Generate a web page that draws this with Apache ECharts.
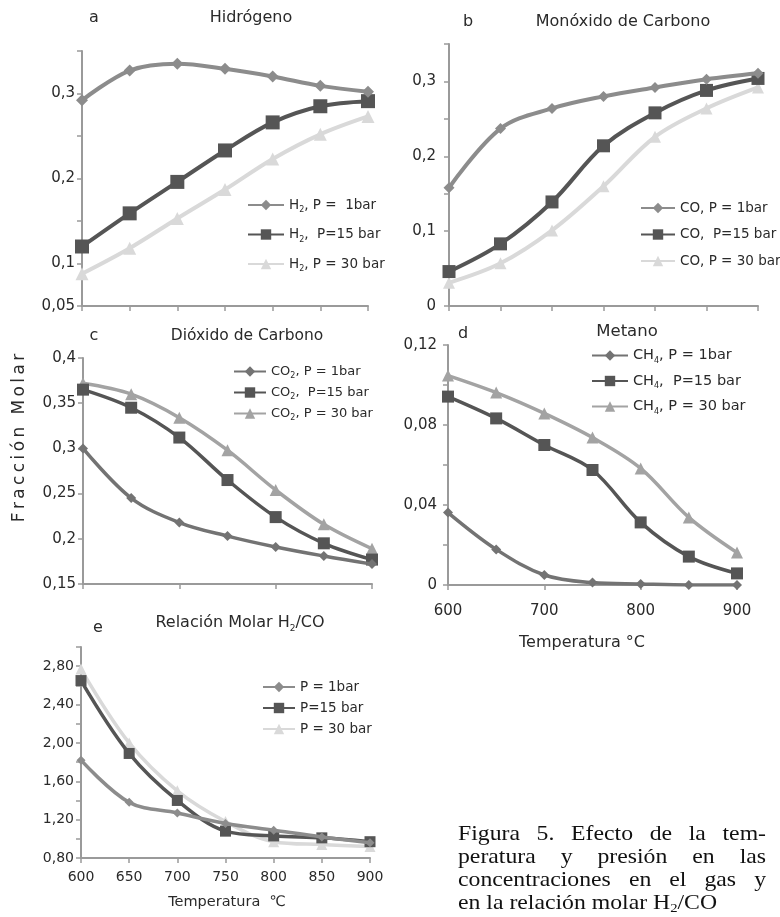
<!DOCTYPE html>
<html><head><meta charset="utf-8">
<script src="https://cdn.jsdelivr.net/npm/echarts@6/dist/echarts.min.js"></script>
<style>html,body{margin:0;padding:0;background:#fff}#c{width:780px;height:917px}</style>
</head><body><div id="c"></div>
<script>
// ---------- DATA ----------
const temps = [600, 650, 700, 750, 800, 850, 900];

const h2_1  = [0.292, 0.327, 0.335, 0.329, 0.320, 0.309, 0.302];
const h2_15 = [0.120, 0.159, 0.196, 0.233, 0.266, 0.285, 0.291];
const h2_30 = [0.088, 0.118, 0.153, 0.187, 0.223, 0.252, 0.273];

const co_1  = [0.158, 0.237, 0.264, 0.280, 0.292, 0.303, 0.311];
const co_15 = [0.046, 0.083, 0.139, 0.214, 0.258, 0.288, 0.304];
const co_30 = [0.031, 0.057, 0.101, 0.160, 0.226, 0.264, 0.292];

const co2_1  = [0.300, 0.245, 0.218, 0.203, 0.191, 0.181, 0.172];
const co2_15 = [0.365, 0.345, 0.312, 0.265, 0.224, 0.195, 0.177];
const co2_30 = [0.372, 0.360, 0.334, 0.298, 0.254, 0.216, 0.189];

const ch4_1  = [0.0362, 0.0178, 0.0050, 0.0012, 0.0005, 0.0000, 0.0000];
const ch4_15 = [0.0942, 0.0833, 0.0700, 0.0575, 0.0313, 0.0142, 0.0058];
const ch4_30 = [0.1047, 0.0962, 0.0858, 0.0737, 0.0583, 0.0338, 0.0162];

const rat_1  = [1.82, 1.38, 1.27, 1.16, 1.09, 1.02, 0.96];
const rat_15 = [2.65, 1.89, 1.40, 1.08, 1.03, 1.01, 0.97];
const rat_30 = [2.77, 2.00, 1.50, 1.18, 0.97, 0.94, 0.92];

// series names (legend labels; "_2"/"_4" = subscript)
const namesA = ['H_2, P =  1bar', 'H_2,  P=15 bar', 'H_2, P = 30 bar'];
const namesB = ['CO, P = 1bar', 'CO,  P=15 bar', 'CO, P = 30 bar'];
const namesC = ['CO_2, P = 1bar', 'CO_2,  P=15 bar', 'CO_2, P = 30 bar'];
const namesD = ['CH_4, P = 1bar', 'CH_4,  P=15 bar', 'CH_4, P = 30 bar'];
const namesE = ['P = 1bar', 'P=15 bar', 'P = 30 bar'];

// tick labels
const yTickA = [0.05, 0.1, 0.2, 0.3];            const yLabA = ['0,05', '0,1', '0,2', '0,3'];
const yTickB = [0, 0.1, 0.2, 0.3];               const yLabB = ['0', '0,1', '0,2', '0,3'];
const yTickC = [0.15, 0.2, 0.25, 0.3, 0.35, 0.4]; const yLabC = ['0,15', '0,2', '0,25', '0,3', '0,35', '0,4'];
const yTickD = [0, 0.04, 0.08, 0.12];            const yLabD = ['0', '0,04', '0,08', '0,12'];
const yTickE = [0.8, 1.2, 1.6, 2.0, 2.4, 2.8];   const yLabE = ['0,80', '1,20', '1,60', '2,00', '2,40', '2,80'];
const xTickD = [600, 700, 800, 900];
const xTickE = [600, 650, 700, 750, 800, 850, 900];

const captionLines = ['Figura 5. Efecto de la tem-', 'peratura y presión en las',
  'concentraciones en el gas y', 'en la relación molar H_2/CO'];

// ---------- STYLE / LAYOUT ----------
const FONT = 'DejaVu Sans';
const TXT = '#2a2a2a';
const AX = '#9a9a9a';

const grids = [
  {left: 82,  top: 51,  width: 286, height: 255},
  {left: 449, top: 44,  width: 309, height: 262},
  {left: 83,  top: 358, width: 289, height: 226},
  {left: 448, top: 345, width: 289, height: 240},
  {left: 81,  top: 647, width: 289, height: 211}
];

function fmtFrom(ticks, labs) {
  return v => { const k = ticks.findIndex(t => Math.abs(t - v) < 1e-6); return k < 0 ? '' : labs[k]; };
}

const yCfg = [
  {min: 0.05, max: 0.35, interval: 0.05, ticks: yTickA, labs: yLabA, margin: 7, fs: 15},
  {min: 0,    max: 0.35, interval: 0.05, ticks: yTickB, labs: yLabB, margin: 13, fs: 15},
  {min: 0.15, max: 0.40, interval: 0.05, ticks: yTickC, labs: yLabC, margin: 7, fs: 15},
  {min: 0,    max: 0.12, interval: 0.02, ticks: yTickD, labs: yLabD, margin: 11, fs: 15},
  {min: 0.8,  max: 3.0,  interval: 0.2,  ticks: yTickE, labs: yLabE, margin: 7, fs: 14}
];
const xCfg = [
  {interval: 50,  show: false},
  {interval: 50,  show: false},
  {interval: 100, show: false},
  {interval: 100, show: true, ticks: xTickD, margin: 19, fs: 15},
  {interval: 50,  show: true, ticks: xTickE, margin: 12, fs: 14}
];

const xAxis = xCfg.map((c, i) => ({
  type: 'value', gridIndex: i, min: 600, max: 900, interval: c.interval,
  axisLine: {onZero: false, lineStyle: {color: AX, width: 2}},
  axisTick: {show: true, length: 5, lineStyle: {color: AX, width: 1.5}},
  splitLine: {show: false},
  axisLabel: {show: c.show, margin: c.margin || 8, fontSize: c.fs || 14, fontFamily: FONT, color: TXT,
    formatter: c.show ? (v => (c.ticks.indexOf(v) >= 0 ? String(v) : '')) : ''}
}));
const yAxis = yCfg.map((c, i) => ({
  type: 'value', gridIndex: i, min: c.min, max: c.max, interval: c.interval,
  axisLine: {show: true, onZero: false, lineStyle: {color: AX, width: 2}},
  axisTick: {show: true, length: 5, lineStyle: {color: AX, width: 1.5}},
  splitLine: {show: false},
  axisLabel: {margin: c.margin, fontSize: c.fs, fontFamily: FONT, color: TXT, formatter: fmtFrom(c.ticks, c.labs)}
}));

const palLight = ['#8c8c8c', '#555555', '#d9d9d9'];
const palDark  = ['#737373', '#555555', '#a3a3a3'];
const symbols = ['diamond', 'rect', 'triangle'];

function panel(gi, names, arrs, pal, sizes, lw) {
  return arrs.map((vals, k) => ({
    type: 'line', name: names[k], xAxisIndex: gi, yAxisIndex: gi,
    data: temps.map((t, i) => [t, vals[i]]),
    smooth: 0.35, symbol: symbols[k], symbolSize: sizes[k], showAllSymbol: true,
    lineStyle: {color: pal[k], width: lw}, itemStyle: {color: pal[k]},
    z: k === 0 ? 4 : (k === 1 ? 3 : 2), silent: true, animation: false
  }));
}

const series = [].concat(
  panel(0, namesA, [h2_1, h2_15, h2_30], palLight, [12, 14, 13], 4),
  panel(1, namesB, [co_1, co_15, co_30], palLight, [11, 13, 12], 4),
  panel(2, namesC, [co2_1, co2_15, co2_30], palDark, [10, 12, 12], 3.5),
  panel(3, namesD, [ch4_1, ch4_15, ch4_30], palDark, [10, 12, 12], 3.5),
  panel(4, namesE, [rat_1, rat_15, rat_30], palLight, [9, 11, 11], 3.5)
);

function legend(names, left, top, itemWidth, fs, lh, gap) {
  return {
    data: names, left: left, top: top, orient: 'vertical', itemWidth: itemWidth, itemHeight: 13,
    itemGap: gap, selectedMode: false, padding: 0,
    formatter: n => '{n|' + n.replace(/_(\d)/g, '}{s|$1}{n|') + '}',
    textStyle: {fontFamily: FONT, fontSize: fs, color: TXT,
      rich: {n: {fontFamily: FONT, fontSize: fs, color: TXT, lineHeight: lh},
             s: {fontFamily: FONT, fontSize: 8, color: TXT, lineHeight: 8, verticalAlign: 'bottom'}}}
  };
}

const legends = [
  legend(namesA, 247, 198, 36, 13.5, 18, 13.5),
  legend(namesB, 640, 201, 34, 13.5, 18, 12.5),
  legend(namesC, 233, 365, 32, 13, 16, 6.5),
  legend(namesD, 591, 348, 36, 14.5, 18, 9),
  legend(namesE, 262, 680, 32, 13.5, 18, 7)
];

function txt(x, y, text, fs, extra) {
  return Object.assign({type: 'text', x: x, y: y, silent: true,
    style: {text: text, fontFamily: FONT, fontSize: fs, fill: TXT,
      align: 'center', verticalAlign: 'middle', textAlign: 'center', textVerticalAlign: 'middle',
      rich: {n: {fontFamily: FONT, fontSize: fs, fill: TXT, lineHeight: 20},
             s: {fontFamily: FONT, fontSize: 9, fill: TXT, lineHeight: 9, verticalAlign: 'bottom'}}}}, extra || {});
}

const graphic = [
  txt(94, 18, 'a', 16), txt(251, 18, 'Hidrógeno', 16),
  txt(468, 22, 'b', 16), txt(623, 22, 'Monóxido de Carbono', 16),
  txt(94, 336, 'c', 16), txt(247, 336, 'Dióxido de Carbono', 15.5),
  txt(463, 334, 'd', 16), txt(627, 332, 'Metano', 16.5),
  txt(98, 628, 'e', 16), txt(240, 623, '{n|Relación Molar H}{s|2}{n|/CO}', 16),
  txt(20, 438, 'F\u2009r\u2009a\u2009c\u2009c\u2009i\u2009ó\u2009n\u2009 \u2009M\u2009o\u2009l\u2009a\u2009r', 17, {rotation: Math.PI / 2}),
  txt(582, 643, 'Temperatura °C', 16),
  txt(227, 902, 'Temperatura  ℃', 14.5)
];

// justified caption (serif, slightly widened like the scanned original)
(function () {
  const cfs = 21, cfont = cfs + 'px "Liberation Serif"', sx = 1.13;
  const left = 458, width = 308, y0 = 834, lh = 23.3;
  const uw = width / sx;
  const ctx = document.createElement('canvas').getContext('2d');
  ctx.font = cfont;
  const kids = [];
  const st = (t, extra) => Object.assign({text: t, fontFamily: 'Liberation Serif', fontSize: cfs, fill: '#111',
      align: 'left', verticalAlign: 'middle', textAlign: 'left', textVerticalAlign: 'middle'}, extra || {});
  captionLines.forEach((line, li) => {
    const y = y0 + li * lh;
    if (li === captionLines.length - 1) {
      kids.push({type: 'text', x: 0, y: y, silent: true, style: st(
        '{n|' + line.replace(/_(\d)/g, '}{s|$1}{n|') + '}',
        {rich: {n: {fontFamily: 'Liberation Serif', fontSize: cfs, fill: '#111', lineHeight: 22},
                s: {fontFamily: 'Liberation Serif', fontSize: 13, fill: '#111', lineHeight: 12, verticalAlign: 'bottom'}}})});
      return;
    }
    const words = line.split(' ');
    const ws = words.map(w => ctx.measureText(w).width);
    const total = ws.reduce((a, b) => a + b, 0);
    const gap = (uw - total) / (words.length - 1);
    let x = 0;
    words.forEach((w, k) => {
      kids.push({type: 'text', x: x, y: y, silent: true, style: st(w)});
      x += ws[k] + gap;
    });
  });
  graphic.push({type: 'group', x: left, y: 0, scaleX: sx, scaleY: 1, silent: true, children: kids});
})();

const chart = echarts.init(document.getElementById('c'), null, {renderer: 'canvas'});
chart.setOption({
  animation: false,
  backgroundColor: '#ffffff',
  grid: grids.map(g => Object.assign({containLabel: false}, g)),
  xAxis: xAxis, yAxis: yAxis, legend: legends, series: series, graphic: graphic
});
</script></body></html>
